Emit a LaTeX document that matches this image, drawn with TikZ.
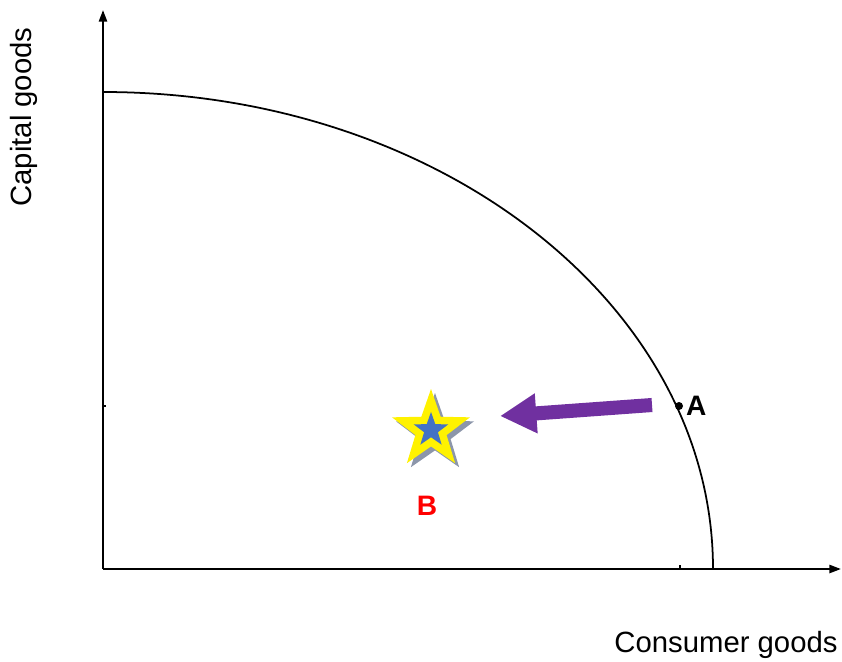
\documentclass[tikz,border=0pt]{standalone}
\usepackage{fontspec}
\setmainfont{Liberation Sans}
\usepackage{tikz}
\usetikzlibrary{arrows.meta, shapes.geometric}

\definecolor{shiftpurple}{RGB}{112,48,160}
\definecolor{starblue}{RGB}{68,114,196}
\definecolor{shadowgray}{RGB}{140,150,170}

\tikzset{
  axislabel/.style={font=\fontsize{25}{30}\selectfont, inner sep=0pt},
  pointlabel/.style={font=\fontsize{24}{28}\selectfont\bfseries, inner sep=0pt},
  bigstar/.style={star, star points=5, star point ratio=2.5, inner sep=0pt, minimum size=70pt},
}

\begin{document}
\begin{tikzpicture}[x=0.03cm, y=-0.03cm]
  \useasboundingbox (0,0) rectangle (842,661);
  % axes
  \coordinate (origin) at (103,569);
  \coordinate (ytop) at (103,10);
  \coordinate (xend) at (841,569);
  \draw[line width=1.8pt, -{Triangle[length=10pt, width=7pt]}] (origin) -- (ytop);
  \draw[line width=1.8pt, -{Triangle[length=10pt, width=7pt]}] (origin) -- (xend);
  \node[axislabel, rotate=90] (ylab) at (24,117) {Capital goods};
  \node[axislabel] (xlab) at (726,645) {Consumer goods};
  % frontier
  \draw[line width=1.5pt] (103,92) arc[start angle=90, end angle=0, x radius=610, y radius=-477];
  % small ticks
  \draw[line width=1pt] (103,406) -- (106,406);
  \draw[line width=1pt] (680,569) -- (680,565);
  % point A
  \fill (679,406) circle (4);
  \node[pointlabel, anchor=west] (A) at (686,406) {A};
  % shift arrow
  \coordinate (shiftstart) at (652,405);
  \coordinate (shiftend) at (500,416);
  \draw[shiftpurple, line width=12pt, -{Triangle[length=31pt, width=32pt]}] (shiftstart) -- (shiftend);
  % star B
  \node[bigstar, fill=shadowgray] (Bshadow) at (435,434) {};
  \node[bigstar, fill=yellow] (Bstar) at (431,430) {};
  \node[star, star points=5, star point ratio=2.5, inner sep=0pt, minimum size=31pt, fill=starblue] (Bcore) at (431,430) {};
  \node[pointlabel, text=red] (B) at (427,506) {B};
\end{tikzpicture}
\end{document}
